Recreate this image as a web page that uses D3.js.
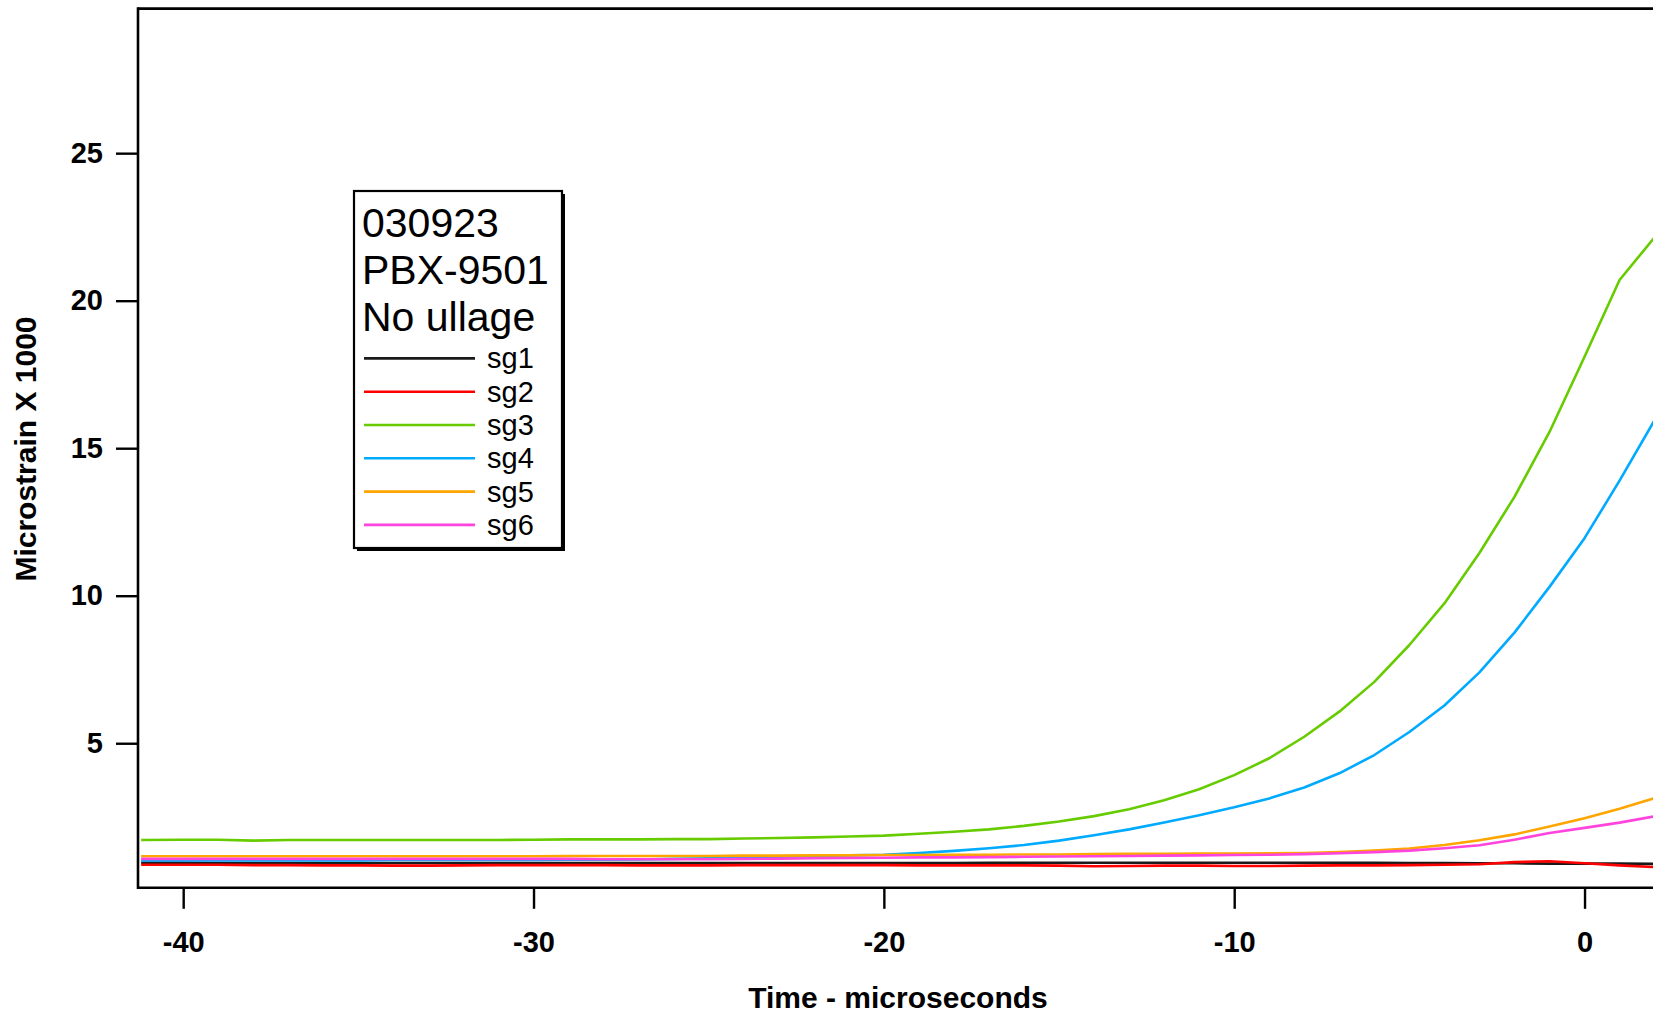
<!DOCTYPE html>
<html>
<head>
<meta charset="utf-8">
<script src="https://cdn.jsdelivr.net/npm/d3@7"></script>
<style>
  html, body { margin: 0; padding: 0; background: #fff; overflow: hidden; }
  svg { display: block; font-family: "Liberation Sans", Arial, Helvetica, sans-serif; }
</style>
</head>
<body>
<svg id="chart" width="1653" height="1014"></svg>
<script>
// Time axis samples (microseconds)
const times = [-41.2, -40, -39, -38, -37, -36, -35, -34, -33, -32, -31, -30, -29, -28, -27, -26, -25, -24, -23, -22,
  -21, -20, -19, -18, -17, -16, -15, -14, -13, -12, -11, -10, -9, -8, -7, -6, -5, -4, -3, -2, -1, 0, 1, 2];

// Strain gauge readings, microstrain x 1000
const sg1 = [0.95, 0.95, 0.94, 0.94, 0.94, 0.94, 0.94, 0.94, 0.94, 0.94, 0.94, 0.94, 0.94, 0.94, 0.94, 0.94, 0.94, 0.94, 0.94, 0.94,
  0.94, 0.94, 0.94, 0.94, 0.95, 0.95, 0.95, 0.95, 0.95, 0.95, 0.95, 0.95, 0.95, 0.95, 0.95, 0.95, 0.94, 0.94, 0.93, 0.93, 0.92, 0.92, 0.92, 0.91];
const sg2 = [0.88, 0.88, 0.88, 0.87, 0.87, 0.86, 0.86, 0.85, 0.85, 0.86, 0.87, 0.87, 0.87, 0.87, 0.86, 0.86, 0.86, 0.87, 0.87, 0.87,
  0.87, 0.87, 0.86, 0.86, 0.86, 0.86, 0.85, 0.83, 0.84, 0.85, 0.85, 0.84, 0.84, 0.85, 0.86, 0.86, 0.87, 0.88, 0.90, 0.97, 1.00, 0.93, 0.86, 0.80];
const sg3 = [1.72, 1.73, 1.73, 1.70, 1.72, 1.72, 1.72, 1.72, 1.72, 1.72, 1.72, 1.73, 1.74, 1.74, 1.74, 1.75, 1.75, 1.77, 1.79, 1.81,
  1.84, 1.87, 1.93, 2.00, 2.08, 2.20, 2.35, 2.53, 2.76, 3.07, 3.44, 3.92, 4.49, 5.22, 6.07, 7.08, 8.33, 9.74, 11.45, 13.35, 15.55, 18.1, 20.7, 22.15];
const sg4 = [1.03, 1.03, 1.03, 1.03, 1.03, 1.03, 1.03, 1.04, 1.04, 1.04, 1.04, 1.04, 1.05, 1.05, 1.06, 1.08, 1.10, 1.12, 1.15, 1.18,
  1.20, 1.22, 1.28, 1.35, 1.44, 1.55, 1.70, 1.88, 2.08, 2.31, 2.56, 2.83, 3.13, 3.50, 3.98, 4.60, 5.38, 6.28, 7.40, 8.75, 10.3, 11.95, 13.9, 15.95];
const sg5 = [1.17, 1.17, 1.17, 1.17, 1.17, 1.17, 1.17, 1.17, 1.17, 1.17, 1.17, 1.17, 1.18, 1.18, 1.18, 1.18, 1.18, 1.19, 1.19, 1.20,
  1.20, 1.21, 1.21, 1.22, 1.22, 1.23, 1.23, 1.24, 1.25, 1.25, 1.26, 1.26, 1.27, 1.28, 1.31, 1.36, 1.43, 1.55, 1.71, 1.91, 2.18, 2.46, 2.78, 3.14];
const sg6 = [1.08, 1.08, 1.08, 1.08, 1.08, 1.08, 1.08, 1.08, 1.08, 1.08, 1.08, 1.08, 1.08, 1.07, 1.07, 1.07, 1.07, 1.08, 1.09, 1.10,
  1.11, 1.12, 1.13, 1.13, 1.14, 1.15, 1.16, 1.17, 1.18, 1.19, 1.20, 1.21, 1.22, 1.24, 1.27, 1.31, 1.36, 1.44, 1.54, 1.73, 1.96, 2.13, 2.31, 2.52];

const seriesNames = ["sg1", "sg2", "sg3", "sg4", "sg5", "sg6"];
const seriesValues = [sg1, sg2, sg3, sg4, sg5, sg6];
const seriesColors = ["#1a1a1a", "#ff0000", "#66cc00", "#00aaff", "#ffa500", "#ff44dd"];

const xTicks = [-40, -30, -20, -10, 0];
const yTicks = [5, 10, 15, 20, 25];
const headerLines = ["030923", "PBX-9501", "No ullage"];

(function draw() {
  const svg = d3.select("#chart");

  // Plot frame (extends past the right edge of the view)
  const pLeft = 138, pTop = 8.6, pBottom = 887.8, pRight = 1654.6;
  const x = d3.scaleLinear().domain([-41.29, 2]).range([pLeft, pRight]);
  const y = d3.scaleLinear().domain([0.1, 29.9]).range([pBottom, pTop]);

  // Data lines
  const line = d3.line().x((d, i) => x(times[i])).y(d => y(d));
  svg.append("g").selectAll("path")
    .data(seriesValues)
    .join("path")
    .attr("d", d => line(d))
    .attr("fill", "none")
    .attr("stroke", (d, i) => seriesColors[i])
    .attr("stroke-width", 2.6)
    .attr("stroke-linejoin", "round");

  // Frame
  const frame = svg.append("g").attr("stroke", "#000").attr("stroke-width", 2.6).attr("fill", "none");
  frame.append("path").attr("d", `M${pLeft},${pBottom}H${pRight + 10}`);
  frame.append("path").attr("d", `M${pLeft},${pTop}H${pRight + 10}`);
  frame.append("path").attr("d", `M${pLeft},${pTop - 1.3}V${pBottom + 1.3}`);

  // Axes (plain hyphen-minus in labels)
  const plain = d => String(d);
  const xAxis = d3.axisBottom(x).tickValues(xTicks).tickSize(21).tickPadding(23).tickFormat(plain);
  const gx = svg.append("g").attr("transform", `translate(0,${pBottom})`).call(xAxis);
  const yAxis = d3.axisLeft(y).tickValues(yTicks).tickSize(22).tickPadding(13).tickFormat(plain);
  const gy = svg.append("g").attr("transform", `translate(${pLeft},0)`).call(yAxis);

  [gx, gy].forEach(g => {
    g.select(".domain").remove();
    g.selectAll(".tick line").attr("stroke", "#000").attr("stroke-width", 2.4);
    g.selectAll(".tick text")
      .attr("fill", "#000")
      .style("font-family", "'Liberation Sans', Arial, sans-serif")
      .style("font-size", "29px")
      .style("font-weight", "bold");
  });

  // Axis titles
  svg.append("text")
    .attr("x", 898).attr("y", 1008)
    .attr("text-anchor", "middle")
    .style("font-size", "30px").style("font-weight", "bold")
    .text("Time - microseconds");

  svg.append("text")
    .attr("transform", "translate(36,449) rotate(-90)")
    .attr("text-anchor", "middle")
    .style("font-size", "30px").style("font-weight", "bold")
    .text("Microstrain X 1000");

  // Legend box with drop shadow
  const lg = svg.append("g");
  const bx = 354, by = 191, bw = 208, bh = 357;
  lg.append("rect").attr("x", bx + 3).attr("y", by + 3).attr("width", bw).attr("height", bh).attr("fill", "#000");
  lg.append("rect").attr("x", bx).attr("y", by).attr("width", bw).attr("height", bh)
    .attr("fill", "#fff").attr("stroke", "#000").attr("stroke-width", 2.2);

  lg.selectAll("text.head")
    .data(headerLines)
    .join("text")
    .attr("class", "head")
    .attr("x", bx + 8)
    .attr("y", (d, i) => 237 + i * 47.2)
    .style("font-size", "41px")
    .text(d => d);

  const entry = lg.selectAll("g.entry")
    .data(seriesNames)
    .join("g")
    .attr("class", "entry")
    .attr("transform", (d, i) => `translate(0,${358.4 + i * 33.3})`);
  entry.append("line")
    .attr("x1", 364).attr("x2", 475).attr("y1", 0).attr("y2", 0)
    .attr("stroke", (d, i) => seriesColors[i])
    .attr("stroke-width", 2.6);
  entry.append("text")
    .attr("x", 487).attr("y", 10)
    .style("font-size", "29px")
    .text(d => d);
})();
</script>
</body>
</html>
